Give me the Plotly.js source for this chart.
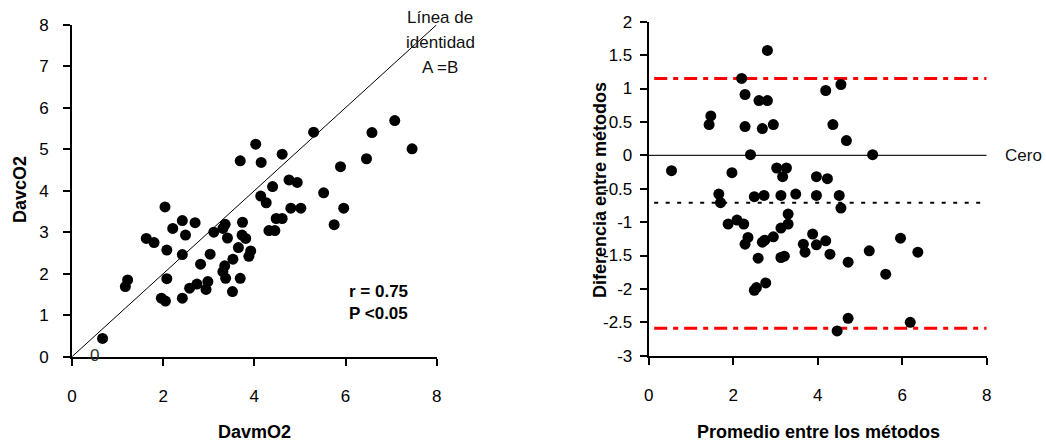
<!DOCTYPE html>
<html>
<head>
<meta charset="utf-8">
<script src="https://cdn.plot.ly/plotly-3.0.1.min.js"></script>
<style>html,body{margin:0;padding:0;background:#fff;}#chart{width:1046px;height:446px;}</style>
</head>
<body>
<div id="chart"></div>
<script>
// Left panel: DavmO2 vs DavcO2
const davmO2 = [0.67,1.17,1.22,1.63,1.80,1.96,2.05,2.04,2.08,2.08,2.21,2.42,2.49,2.70,2.42,2.42,2.58,2.74,2.82,2.94,2.98,3.03,3.11,3.31,3.36,3.41,3.35,3.31,3.37,3.52,3.53,3.65,3.69,3.74,3.73,3.81,3.92,3.88,3.69,4.03,4.15,4.14,4.26,4.32,4.45,4.40,4.48,4.61,4.61,4.76,4.94,4.80,5.02,5.30,5.52,5.75,5.89,5.96,6.46,6.58,7.08,7.46];
const davcO2 = [0.44,1.69,1.85,2.85,2.75,1.41,1.34,3.61,2.57,1.88,3.09,3.28,2.93,3.23,2.46,1.41,1.65,1.75,2.23,1.62,1.81,2.47,3.00,3.09,3.19,2.86,2.19,2.05,1.89,1.57,2.35,2.63,1.89,3.24,2.93,2.85,2.55,2.42,4.72,5.12,4.68,3.87,3.71,3.04,3.04,4.10,3.33,3.33,4.88,4.26,4.20,3.58,3.58,5.41,3.95,3.18,4.58,3.58,4.77,5.40,5.69,5.01];
const identityX = [0, 8];
const identityY = [0, 8];

// Right panel: Bland-Altman
const promedio = [0.54,1.43,1.47,1.66,1.70,1.88,1.97,2.09,2.20,2.25,2.28,2.28,2.28,2.35,2.41,2.50,2.50,2.55,2.59,2.61,2.69,2.69,2.73,2.75,2.77,2.81,2.81,2.95,2.95,3.03,3.13,3.13,3.13,3.21,3.17,3.26,3.30,3.30,3.48,3.66,3.70,3.88,3.97,3.97,3.97,4.19,4.19,4.23,4.29,4.36,4.46,4.51,4.55,4.55,4.68,4.72,4.72,5.22,5.30,5.61,5.96,6.19,6.37];
const diferencia = [-0.23,0.46,0.59,-0.58,-0.71,-1.03,-0.26,-0.97,1.15,-1.03,0.91,0.43,-1.33,-1.23,0.01,-0.62,-2.02,-1.98,-1.54,0.82,0.40,-1.30,-0.60,-1.27,-1.91,1.57,0.82,0.46,-1.22,-0.19,-0.60,-1.09,-1.53,-1.51,-0.32,-0.19,-0.88,-1.03,-0.58,-1.33,-1.45,-1.18,-0.32,-0.60,-1.34,0.97,-1.28,-0.35,-1.48,0.46,-2.63,-0.60,1.06,-0.79,0.22,-1.60,-2.44,-1.43,0.01,-1.78,-1.24,-2.50,-1.45];
const limitX = [0.13, 8];
const upperLimit = [1.15, 1.15];
const meanDiff = [-0.71, -0.71];
const lowerLimit = [-2.59, -2.59];
const zeroX = [0, 8];
const zeroY = [0, 0];

const leftTicks = [0,1,2,3,4,5,6,7,8];
const xTicks = [0,2,4,6,8];
const rightTicks = [2,1.5,1,0.5,0,-0.5,-1,-1.5,-2,-2.5,-3];
const rightTickText = ["2","1.5","1","0.5","0","-0.5","-1","-1.5","-2","-2.5","-3"];

const FONT = "Liberation Sans, Arial, sans-serif";
const W = 1046, H = 446;
const px = v => v / W;
const py = v => (H - v) / H;

const marker = {color: "#000", size: 11, line: {width: 0}};

const traces = [
  {x: identityX, y: identityY, xaxis: "x", yaxis: "y", mode: "lines", line: {color: "#000", width: 1}, hoverinfo: "skip"},
  {x: davmO2, y: davcO2, xaxis: "x", yaxis: "y", mode: "markers", marker: marker},
  {x: zeroX, y: zeroY, xaxis: "x2", yaxis: "y2", mode: "lines", line: {color: "#222", width: 1.2}},
  {x: limitX, y: upperLimit, xaxis: "x2", yaxis: "y2", mode: "lines", line: {color: "#ff0000", width: 3, dash: "13px,6px,5px,6px"}},
  {x: limitX, y: lowerLimit, xaxis: "x2", yaxis: "y2", mode: "lines", line: {color: "#ff0000", width: 3, dash: "13px,6px,5px,6px"}},
  {x: limitX, y: meanDiff, xaxis: "x2", yaxis: "y2", mode: "lines", line: {color: "#000", width: 2, dash: "4px,7.5px"}},
  {x: promedio, y: diferencia, xaxis: "x2", yaxis: "y2", mode: "markers", marker: marker}
];

const axBase = {
  showgrid: false, zeroline: false, showline: true, linecolor: "#000", linewidth: 2,
  ticks: "outside", ticklen: 7, tickwidth: 2, tickcolor: "#000",
  tickfont: {family: FONT, size: 17, color: "#000"}, fixedrange: true
};

const layout = {
  width: W, height: H, showlegend: false,
  margin: {l: 0, r: 0, t: 0, b: 0},
  paper_bgcolor: "#fff", plot_bgcolor: "#fff",
  font: {family: FONT, color: "#000"},
  xaxis: Object.assign({}, axBase, {domain: [px(72), px(436.7)], range: [0, 8], tickvals: xTicks, ticktext: xTicks.map(String), anchor: "y", ticklabelstandoff: 16}),
  yaxis: Object.assign({}, axBase, {domain: [py(356.7), py(24.7)], range: [0, 8], tickvals: leftTicks, ticktext: leftTicks.map(String), anchor: "x", ticklabelstandoff: 11}),
  xaxis2: Object.assign({}, axBase, {domain: [px(648.7), px(986.7)], range: [0, 8], tickvals: xTicks, ticktext: xTicks.map(String), anchor: "y2", ticklabelstandoff: 16}),
  yaxis2: Object.assign({}, axBase, {domain: [py(355.7), py(21.7)], range: [-3, 2], tickvals: rightTicks, ticktext: rightTickText, anchor: "x2", ticklabelstandoff: 4}),
  annotations: [
    {xref: "paper", yref: "paper", x: px(254), y: py(432), text: "<b>DavmO2</b>", showarrow: false, font: {family: FONT, size: 18}, xanchor: "center", yanchor: "middle"},
    {xref: "paper", yref: "paper", x: px(818), y: py(432), text: "<b>Promedio entre los métodos</b>", showarrow: false, font: {family: FONT, size: 18}, xanchor: "center", yanchor: "middle"},
    {xref: "paper", yref: "paper", x: px(20), y: py(190), text: "<b>DavcO2</b>", textangle: -90, showarrow: false, font: {family: FONT, size: 18}, xanchor: "center", yanchor: "middle"},
    {xref: "paper", yref: "paper", x: px(600), y: py(190), text: "<b>Diferencia entre métodos</b>", textangle: -90, showarrow: false, font: {family: FONT, size: 18}, xanchor: "center", yanchor: "middle"},
    {xref: "paper", yref: "paper", x: px(440), y: py(17), text: "Línea de", showarrow: false, font: {family: FONT, size: 17, color: "#111"}, xanchor: "center", yanchor: "middle"},
    {xref: "paper", yref: "paper", x: px(440), y: py(42), text: "identidad", showarrow: false, font: {family: FONT, size: 17, color: "#111"}, xanchor: "center", yanchor: "middle"},
    {xref: "paper", yref: "paper", x: px(440), y: py(67), text: "A =B", showarrow: false, font: {family: FONT, size: 17, color: "#111"}, xanchor: "center", yanchor: "middle"},
    {xref: "paper", yref: "paper", x: px(94), y: py(355), text: "0", showarrow: false, font: {family: FONT, size: 17, color: "#333"}, xanchor: "center", yanchor: "middle"},
    {xref: "paper", yref: "paper", x: px(347), y: py(291), text: "<b>r = 0.75</b>", showarrow: false, font: {family: FONT, size: 17}, xanchor: "left", yanchor: "middle"},
    {xref: "paper", yref: "paper", x: px(347), y: py(313), text: "<b>P <0.05</b>", showarrow: false, font: {family: FONT, size: 17}, xanchor: "left", yanchor: "middle"},
    {xref: "paper", yref: "paper", x: px(1003), y: py(155), text: "Cero", showarrow: false, font: {family: FONT, size: 17, color: "#111"}, xanchor: "left", yanchor: "middle"}
  ]
};

Plotly.newPlot("chart", traces, layout, {staticPlot: true, displayModeBar: false});
</script>
</body>
</html>
